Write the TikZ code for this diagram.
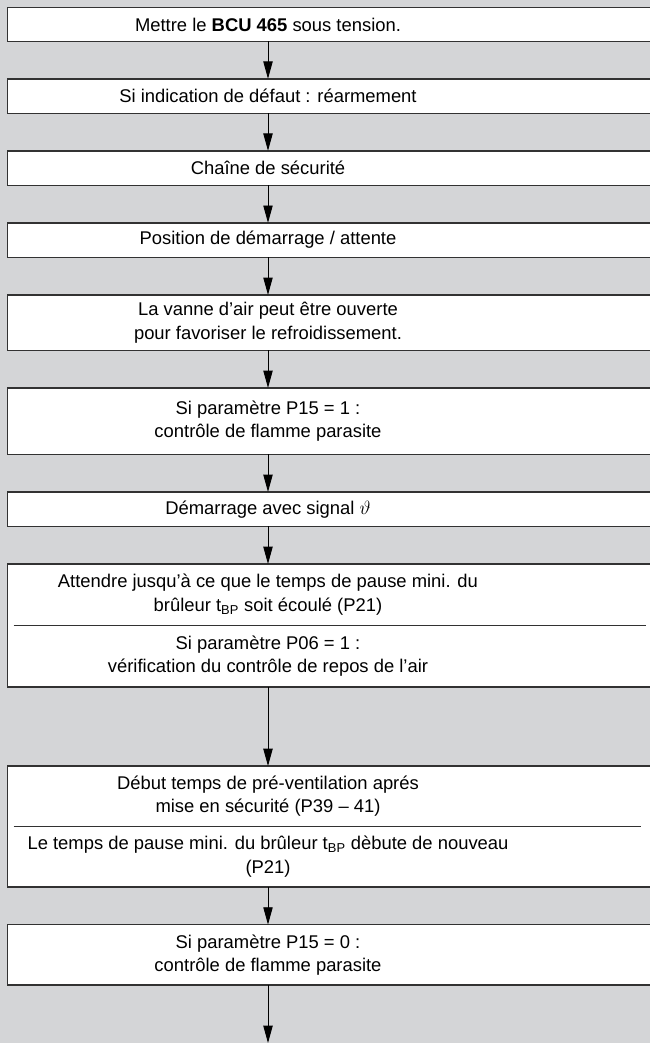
\documentclass[tikz,border=0pt]{standalone}
\usepackage{fontspec}
\setmainfont{Liberation Sans}
\usepackage{xcolor}
\usetikzlibrary{positioning,arrows.meta,backgrounds}

\definecolor{bggrey}{RGB}{212,213,215}
\definecolor{framegrey}{RGB}{50,50,50}
\newdimen\px \px=0.75pt

\begin{document}
\begin{tikzpicture}[
		x=0.75pt, y=-0.75pt,
		node distance=37.5\px,
		box/.style={minimum width=520\px, inner sep=0pt, align=center,
			font=\fontsize{13.8}{17.6}\selectfont},
		frame/.style={draw=framegrey, fill=white, line width=1.1pt},
		divider/.style={draw=framegrey, line width=0.8pt},
		flow/.style={draw=black, line width=0.7pt, -{Triangle[length=13pt, width=7pt]}}
	]
	\useasboundingbox (0,0) rectangle (650,1043);

	\node[box, minimum height=33\px] (b1) at (268,24.5) {Mettre le \textbf{BCU 465} sous tension.};
	\node[box, minimum height=34\px, below=of b1] (b2) {Si indication de défaut : réarmement};
	\node[box, minimum height=34\px, below=of b2] (b3) {Chaîne de sécurité};
	\node[box, minimum height=34\px, below=of b3] (b4) {Position de démarrage / attente};
	\node[box, minimum height=55\px, below=of b4] (b5) {La vanne d’air peut être ouverte\\ pour favoriser le refroidissement.};
	\node[box, minimum height=66\px, below=of b5] (b6) {Si paramètre P15 = 1 :\\ contrôle de flamme parasite};
	\node[box, minimum height=34\px, below=of b6] (b7) {Démarrage avec signal $\vartheta$};
	\node[box, minimum height=61\px, below=of b7] (b8a) {Attendre jusqu’à ce que le temps de pause mini. du\\ brûleur t\textsubscript{BP} soit écoulé (P21)};
	\node[box, minimum height=61\px, below=0pt of b8a] (b8b) {Si paramètre P06 = 1 :\\ vérification du contrôle de repos de l’air};
	\node[box, minimum height=60\px, below=79\px of b8b] (b9a) {Début temps de pré-ventilation aprés\\ mise en sécurité (P39 -- 41)};
	\node[box, minimum height=60\px, below=0pt of b9a] (b9b) {Le temps de pause mini. du brûleur t\textsubscript{BP} dèbute de nouveau\\ (P21)};
	\node[box, minimum height=60\px, below=of b9b] (b10) {Si paramètre P15 = 0 :\\ contrôle de flamme parasite};
	\coordinate (end) at (268,1043);

	% boxes run off the right edge of the page
	\begin{scope}[on background layer]
		\fill[bggrey] (0,0) rectangle (650,1043);
		\foreach \t/\b in {b1/b1,b2/b2,b3/b3,b4/b4,b5/b5,b6/b6,b7/b7,b8a/b8b,b9a/b9b,b10/b10}
			\path[frame] ([xshift=300\px]\t.north east) -- (\t.north west)
				-- (\b.south west) -- ([xshift=300\px]\b.south east);
	\end{scope}

	\draw[divider] ([xshift=6\px]b8a.south west) -- ([xshift=118\px]b8a.south east);
	\draw[divider] ([xshift=6\px]b9a.south west) -- ([xshift=113\px]b9a.south east);

	\foreach \a/\b in {b1/b2,b2/b3,b3/b4,b4/b5,b5/b6,b6/b7,b7/b8a,b8b/b9a,b9b/b10,b10/end}
		\draw[flow] (\a) -- (\b);
\end{tikzpicture}
\end{document}
